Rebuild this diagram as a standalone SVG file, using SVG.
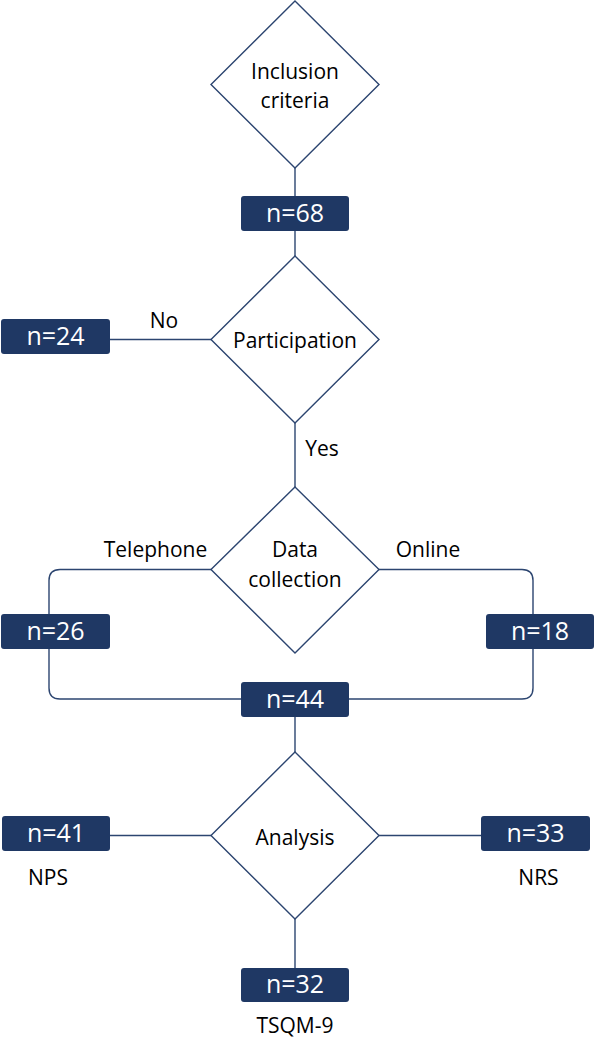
<svg xmlns="http://www.w3.org/2000/svg" width="596" height="1038" viewBox="0 0 596 1038">
<style>
.dia{fill:#ffffff;stroke:#2c4570;stroke-width:1.4}
.box{fill:#1f3864}
.con{fill:none;stroke:#2c4570;stroke-width:1.4}
.bt{font-family:"Open Sans","Noto Sans",sans-serif;font-size:25px;fill:#ffffff;text-anchor:middle}
.lt{font-family:"Open Sans","Noto Sans",sans-serif;font-size:21px;fill:#000000;text-anchor:middle}
</style>
<rect width="596" height="1038" fill="#ffffff"/>
<g id="connectors">
<path class="con" d="M295,168 V256"/>
<path class="con" d="M110,339.5 H211"/>
<path class="con" d="M295,423 V487"/>
<path class="con" d="M211,569.5 H60 Q49,569.5 49,580.5 V688 Q49,699 60,699 H241"/>
<path class="con" d="M379,569.5 H522 Q533,569.5 533,580.5 V688 Q533,699 522,699 H349"/>
<path class="con" d="M295,717 V752"/>
<path class="con" d="M110,835.5 H211"/>
<path class="con" d="M379,835.5 H481"/>
<path class="con" d="M295,919 V968"/>
</g>
<g id="inclusion">
<polygon class="dia" points="295,1 379,84.5 295,168 211,84.5"/>
<text class="lt" x="295" y="79">Inclusion</text>
<text class="lt" x="295" y="108">criteria</text>
</g>
<g id="n68">
<rect class="box" x="241" y="196" width="108" height="35" rx="3"/>
<text class="bt" x="295" y="221.5">n=68</text>
</g>
<g id="participation">
<polygon class="dia" points="295,256 379,339.5 295,423 211,339.5"/>
<text class="lt" x="295" y="348">Participation</text>
</g>
<g id="n24">
<rect class="box" x="1" y="319" width="109" height="35" rx="3"/>
<text class="bt" x="55.5" y="344.5">n=24</text>
</g>
<text class="lt" x="164" y="328">No</text>
<text class="lt" x="322" y="456">Yes</text>
<g id="datacollection">
<polygon class="dia" points="295,487 379,569.5 295,653 211,569.5"/>
<text class="lt" x="295" y="557">Data</text>
<text class="lt" x="295" y="587">collection</text>
</g>
<text class="lt" x="155.5" y="557">Telephone</text>
<text class="lt" x="428" y="557">Online</text>
<g id="n26">
<rect class="box" x="1" y="614" width="109" height="35" rx="3"/>
<text class="bt" x="55.5" y="639.5">n=26</text>
</g>
<g id="n18">
<rect class="box" x="486" y="614" width="108" height="35" rx="3"/>
<text class="bt" x="540" y="639.5">n=18</text>
</g>
<g id="n44">
<rect class="box" x="241" y="682" width="108" height="35" rx="3"/>
<text class="bt" x="295" y="707.5">n=44</text>
</g>
<g id="analysis">
<polygon class="dia" points="295,752 379,835.5 295,919 211,835.5"/>
<text class="lt" x="295" y="845">Analysis</text>
</g>
<g id="n41">
<rect class="box" x="2" y="816" width="108" height="35" rx="3"/>
<text class="bt" x="56" y="841.5">n=41</text>
</g>
<text class="lt" x="48" y="885">NPS</text>
<g id="n33">
<rect class="box" x="481" y="816" width="109" height="35" rx="3"/>
<text class="bt" x="535.5" y="841.5">n=33</text>
</g>
<text class="lt" x="538.5" y="885">NRS</text>
<g id="n32">
<rect class="box" x="241" y="968" width="108" height="34" rx="3"/>
<text class="bt" x="295" y="993">n=32</text>
</g>
<text class="lt" x="295" y="1033">TSQM-9</text>
</svg>
